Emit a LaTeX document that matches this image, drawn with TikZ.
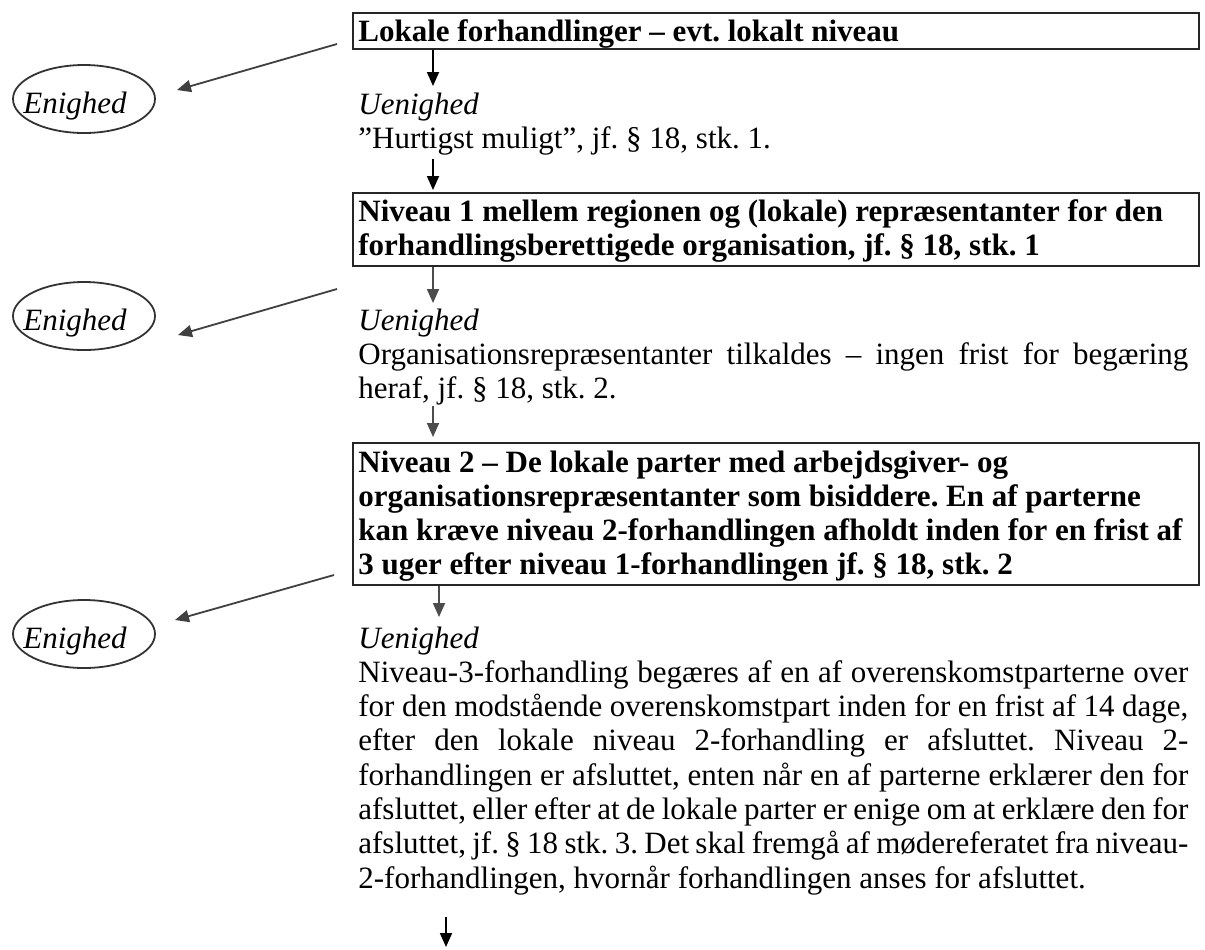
\documentclass[tikz,border=0pt]{standalone}
\usepackage{fontspec}
\setmainfont{Liberation Serif}
\usetikzlibrary{arrows.meta,shapes.geometric}
\frenchspacing
\tolerance=10000 \pretolerance=10000 \hyphenpenalty=10000
\newcommand{\jl}[1]{\makebox[415pt][s]{#1}\\}
\begin{document}
\begin{tikzpicture}[x=0.5pt,y=-0.5pt,
  every node/.style={font=\fontsize{15.5pt}{17.15pt}\selectfont, inner sep=0pt, text=black},
  boxst/.style={draw=black!85, line width=1pt, rectangle, anchor=north west, minimum width=423pt},
  txt/.style={anchor=base west},
  oval/.style={draw=black!80, line width=0.9pt, ellipse, minimum width=71pt, minimum height=34pt},
  arr/.style={-{Triangle[length=7pt,width=6pt]}, line width=0.9pt, draw=black},
  garr/.style={arr, draw=black!70},
  darr/.style={arr, draw=black!75},
]
\path[fill=white, use as bounding box] (0,0) rectangle (1205,949);

% column coordinates
\coordinate (colA) at (433,0);
\coordinate (colB) at (439,0);
\coordinate (colC) at (446,0);

% boxes
\node[boxst, minimum height=18pt] (box1) at (352,12) {};
\node[txt] (t1) at (358,41) {\parbox[t]{420pt}{\raggedright\bfseries Lokale forhandlinger – evt. lokalt niveau}};

\node[txt] (u1) at (358,114) {\parbox[t]{415pt}{\textit{Uenighed}\\”Hurtigst muligt”, jf. § 18, stk. 1.}};

\node[boxst, minimum height=36.5pt] (box2) at (352,192) {};
\node[txt] (t2) at (358,221) {\parbox[t]{420pt}{\raggedright\bfseries Niveau 1 mellem regionen og (lokale) repræsentanter for den\\forhandlingsberettigede organisation, jf. § 18, stk. 1}};

\node[txt] (u2) at (358,330) {\parbox[t]{415pt}{\textit{Uenighed}\\
\jl{Organisationsrepræsentanter tilkaldes – ingen frist for begæring}
heraf, jf. § 18, stk. 2.}};

\node[boxst, minimum height=71pt] (box3) at (352,442) {};
\node[txt] (t3) at (358,472) {\parbox[t]{420pt}{\raggedright\bfseries Niveau 2 – De lokale parter med arbejdsgiver- og\\organisationsrepræsentanter som bisiddere. En af parterne\\kan kræve niveau 2-forhandlingen afholdt inden for en frist af\\3 uger efter niveau 1-forhandlingen jf. § 18, stk. 2}};

\node[txt] (u3) at (358,648) {\parbox[t]{415pt}{\textit{Uenighed}\\
\jl{Niveau-3-forhandling begæres af en af overenskomstparterne over}
\jl{for den modstående overenskomstpart inden for en frist af 14 dage,}
\jl{efter den lokale niveau 2-forhandling er afsluttet. Niveau 2-}
\jl{forhandlingen er afsluttet, enten når en af parterne erklærer den for}
\jl{afsluttet, eller efter at de lokale parter er enige om at erklære den for}
\jl{afsluttet, jf. § 18 stk. 3. Det skal fremgå af mødereferatet fra niveau-}
2-forhandlingen, hvornår forhandlingen anses for afsluttet.}};

% ellipses
\node[oval] (e1) at (84,99) {};
\node[txt] (e1t) at (23,113) {\itshape Enighed};
\node[oval] (e2) at (84,316) {};
\node[txt] (e2t) at (23,330) {\itshape Enighed};
\node[oval] (e3) at (84,634) {};
\node[txt] (e3t) at (23,648) {\itshape Enighed};

% free ends
\coordinate (a1e) at (433,86);
\coordinate (a2s) at (433,159);
\coordinate (a3e) at (433,303);
\coordinate (a4s) at (433,406);
\coordinate (a5e) at (439,617);
\coordinate (a6s) at (446,917);
\coordinate (a6e) at (446,947);
\coordinate (d1s) at (337,44);
\coordinate (d1e) at (177,90);
\coordinate (d2s) at (337,289);
\coordinate (d2e) at (178,335);
\coordinate (d3s) at (334,575);
\coordinate (d3e) at (175,620);

% vertical arrows
\draw[arr] (box1.south -| colA) -- (a1e);
\draw[arr, shorten >=1pt] (a2s) -- (box2.north -| colA);
\draw[garr] (box2.south -| colA) -- (a3e);
\draw[garr, shorten >=2.5pt] (a4s) -- (box3.north -| colA);
\draw[garr] (box3.south -| colB) -- (a5e);
\draw[arr] (a6s) -- (a6e);

% diagonal arrows
\draw[darr] (d1s) -- (d1e);
\draw[darr] (d2s) -- (d2e);
\draw[darr] (d3s) -- (d3e);
\end{tikzpicture}
\end{document}
